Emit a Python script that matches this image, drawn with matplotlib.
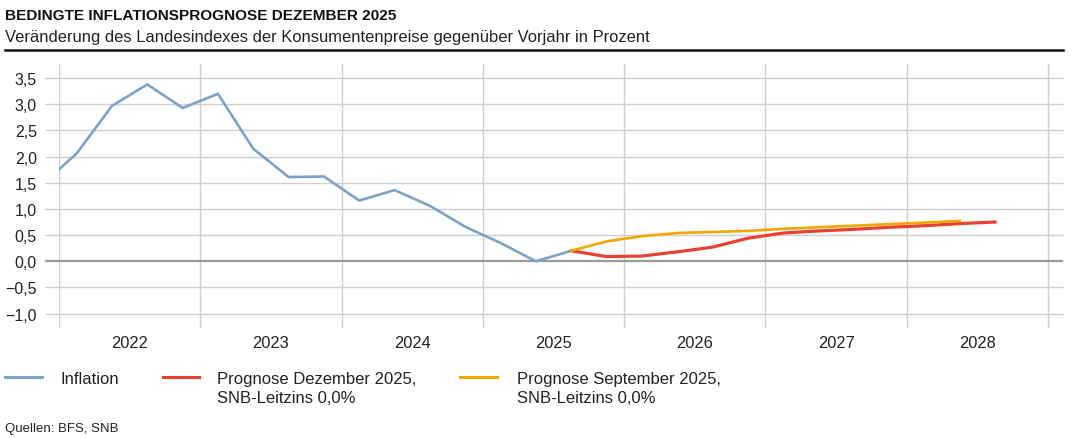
"""
Bedingte Inflationsprognose Dezember 2025 (SNB), nachgebaut mit matplotlib.
Saida: out.png
"""

import matplotlib
matplotlib.use("Agg")
import matplotlib.pyplot as plt
from matplotlib.lines import Line2D

plt.rcParams["font.family"] = ["Liberation Sans", "DejaVu Sans"]

W, H = 1073, 439

# quartale als (jahr, quartal)
Q_INFL = [(2021, 4), (2022, 1), (2022, 2), (2022, 3), (2022, 4),
          (2023, 1), (2023, 2), (2023, 3), (2023, 4),
          (2024, 1), (2024, 2), (2024, 3), (2024, 4),
          (2025, 1), (2025, 2), (2025, 3)]
INFLATION = [1.45, 2.06, 2.97, 3.38, 2.93,
             3.20, 2.15, 1.61, 1.62,
             1.16, 1.36, 1.06, 0.66,
             0.35, 0.00, 0.20]

Q_DEZ = [(2025, 3), (2025, 4),
         (2026, 1), (2026, 2), (2026, 3), (2026, 4),
         (2027, 1), (2027, 2), (2027, 3), (2027, 4),
         (2028, 1), (2028, 2), (2028, 3)]
PROG_DEZ = [0.20, 0.09,
            0.10, 0.18, 0.27, 0.44,
            0.54, 0.58, 0.61, 0.65,
            0.68, 0.72, 0.75]

Q_SEP = [(2025, 3), (2025, 4),
         (2026, 1), (2026, 2), (2026, 3), (2026, 4),
         (2027, 1), (2027, 2), (2027, 3), (2027, 4),
         (2028, 1), (2028, 2)]
PROG_SEP = [0.20, 0.38,
            0.48, 0.54, 0.56, 0.58,
            0.62, 0.65, 0.68, 0.71,
            0.74, 0.77]

JAHRE = [2022, 2023, 2024, 2025, 2026, 2027, 2028]
Y_TICKS = [-1.0, -0.5, 0.0, 0.5, 1.0, 1.5, 2.0, 2.5, 3.0, 3.5]

C_INFL = "#7ba3c9"
C_DEZ = "#e8412f"
C_SEP = "#f5a500"
C_GRID = "#cfcfcf"
C_TEXT = "#222222"


def qpos(q):
    # mitte des quartals
    return q[0] + (q[1] - 0.5) / 4.0


def fx(px):
    return px / W


def fy(py):
    return 1 - py / H


fig = plt.figure(figsize=(W / 100, H / 100), dpi=100)
ax = fig.add_axes([fx(59), fy(329), fx(1063) - fx(59), fy(65) - fy(329)])
ax.set_xlim(2022.0, 2029.106)
ax.set_ylim(-1.275, 3.77)

# gitter
ax.hlines([t for t in Y_TICKS if t != 0], 2021.9, 2029.106, colors=C_GRID,
          linewidth=1.0, clip_on=False, zorder=1)
ax.hlines([0.0], 2021.9, 2029.106, colors="#9a9a9a", linewidth=1.6,
          clip_on=False, zorder=2)
for j in JAHRE + [2029]:
    ax.axvline(j, color=C_GRID, linewidth=1.0, zorder=1)

ax.plot([qpos(q) for q in Q_INFL], INFLATION, color=C_INFL, lw=1.9, zorder=3,
        solid_joinstyle="miter")
ax.plot([qpos(q) for q in Q_DEZ], PROG_DEZ, color=C_DEZ, lw=2.3, zorder=4)
ax.plot([qpos(q) for q in Q_SEP], PROG_SEP, color=C_SEP, lw=1.9, zorder=5)

for s in ax.spines.values():
    s.set_visible(False)
ax.set_yticks(Y_TICKS)
ax.set_yticklabels([f"{v:.1f}".replace(".", ",").replace("-", "\u2212")
                    for v in Y_TICKS])
ax.set_xticks([j + 0.5 for j in JAHRE])
ax.set_xticklabels([str(j) for j in JAHRE])
ax.tick_params(axis="y", length=0, pad=16, labelsize=11.5, labelcolor=C_TEXT)
ax.tick_params(axis="x", length=0, pad=5, labelsize=11.8, labelcolor=C_TEXT)

# titel
fig.text(fx(5), fy(20), "BEDINGTE INFLATIONSPROGNOSE DEZEMBER 2025",
         fontsize=11.1, fontweight="bold", color="#111111", va="baseline")
fig.text(fx(5), fy(42), "Veränderung des Landesindexes der Konsumentenpreise "
         "gegenüber Vorjahr in Prozent", fontsize=11.9, color=C_TEXT,
         va="baseline")
fig.add_artist(Line2D([fx(5), fx(1063)], [fy(50.5), fy(50.5)],
                      color="#111111", lw=1.8))

# legende
leg = [(5, 42, 60, C_INFL, ["Inflation"]),
       (163, 199, 217, C_DEZ, ["Prognose Dezember 2025,", "SNB-Leitzins 0,0%"]),
       (460, 497, 517, C_SEP, ["Prognose September 2025,", "SNB-Leitzins 0,0%"])]
for x0, x1, xt, col, zeilen in leg:
    fig.add_artist(Line2D([fx(x0), fx(x1)], [fy(378), fy(378)], color=col,
                          lw=2.2))
    for i, z in enumerate(zeilen):
        fig.text(fx(xt), fy(384 + 19 * i), z, fontsize=12, color=C_TEXT,
                 va="baseline")

fig.text(fx(5), fy(432), "Quellen: BFS, SNB", fontsize=9.5, color=C_TEXT,
         va="baseline")

fig.savefig("out.png", dpi=100)
